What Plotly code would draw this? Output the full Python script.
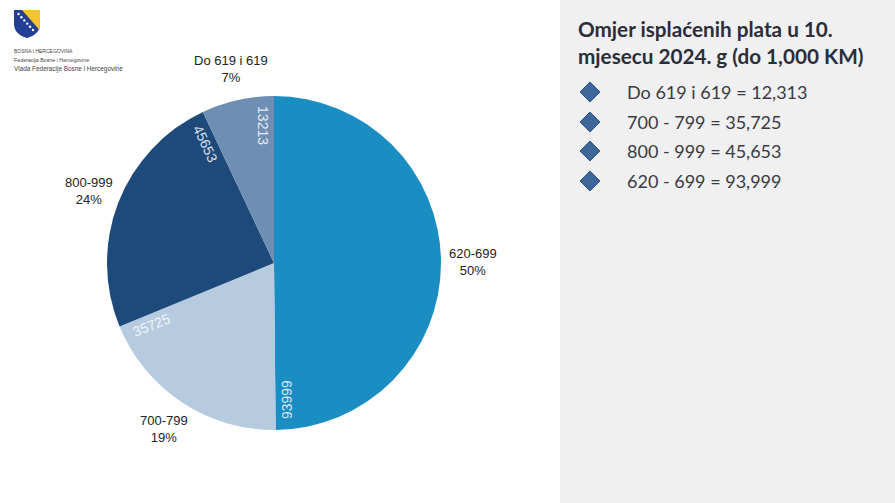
import math
import plotly.graph_objects as go

# ---------------- data ----------------
slice_labels = ["620-699", "700-799", "800-999", "Do 619 i 619"]
slice_values = [93999, 35725, 45653, 13213]
slice_colors = ["#1A8DC3", "#B7CBE0", "#1E4A7B", "#6E8EB3"]

list_labels = ["Do 619 i 619", "700 - 799", "800 - 999", "620 - 699"]
list_values = [12313, 35725, 45653, 93999]

title_lines = ["Omjer isplaćenih plata u 10.", "mjesecu 2024. g (do 1,000 KM)"]
org_lines = ["BOSNA I HERCEGOVINA", "Federacija Bosne i Hercegovine",
             "Vlada Federacije Bosne i Hercegovine"]

W, H = 895, 503


def px(x):
    return x / W


def py(y):
    return 1 - y / H


# pie geometry (pixels)
cx, cy, r = 274, 263, 167

fig = go.Figure()
fig.add_trace(go.Pie(
    labels=slice_labels, values=slice_values, sort=False, direction="clockwise",
    rotation=0, marker=dict(colors=slice_colors, line=dict(width=0)),
    textinfo="none", hoverinfo="label+value+percent", showlegend=False,
    domain=dict(x=[px(cx - r), px(cx + r)], y=[py(cy + r), py(cy - r)]),
))

annotations = []
shapes = []

total = sum(slice_values)
cum = 0.0
for lab, val in zip(slice_labels, slice_values):
    start = cum / total * 360
    cum += val
    end = cum / total * 360
    mid = (start + end) / 2
    # outside category + percent label
    tm = math.radians(mid)
    R_out = 1.19 * r
    ox = cx + R_out * math.sin(tm)
    oy = cy - R_out * math.cos(tm)
    pct = round(val / total * 100)
    annotations.append(dict(
        x=px(ox), y=py(oy), xref="paper", yref="paper", showarrow=False,
        text=f"{lab}<br>{pct}%", align="center", xanchor="center", yanchor="middle",
        font=dict(family="Liberation Sans, Arial", size=13, color="#222222"),
    ))
    # inside value label near the end edge of the slice, rotated
    te = math.radians(end)
    R_in = 0.82 * r
    d = 11
    ix = cx + R_in * math.sin(te) - d * math.cos(te)
    iy = cy - R_in * math.cos(te) - d * math.sin(te)
    ang = (end + 90) % 360
    if ang > 180:
        ang -= 360
    annotations.append(dict(
        x=px(ix), y=py(iy), xref="paper", yref="paper", showarrow=False,
        text=str(val), textangle=ang, xanchor="center", yanchor="middle",
        font=dict(family="Liberation Sans, Arial", size=14, color="rgba(255,255,255,0.85)"),
    ))

# right grey panel
shapes.append(dict(type="rect", xref="paper", yref="paper", x0=px(560), x1=1,
                   y0=0, y1=1, fillcolor="#F0F0F0", line=dict(width=0), layer="below"))

# title
annotations.append(dict(
    x=px(576), y=py(15), xref="paper", yref="paper", showarrow=False,
    text="<b>" + "<br>".join(title_lines) + "</b>", align="left",
    xanchor="left", yanchor="top",
    font=dict(family="Lato", size=20.7, color="#2a2d3a"),
))

# bullet list
bullet_y = [92, 122, 151, 181]
for yy, lab, val in zip(bullet_y, list_labels, list_values):
    hw, hh = 10, 10
    path = (f"M {px(590 - hw)},{py(yy)} L {px(590)},{py(yy - hh)} "
            f"L {px(590 + hw)},{py(yy)} L {px(590)},{py(yy + hh)} Z")
    shapes.append(dict(type="path", xref="paper", yref="paper", path=path,
                       fillcolor="#3D6699", line=dict(color="#2F5488", width=1)))
    annotations.append(dict(
        x=px(625), y=py(yy), xref="paper", yref="paper", showarrow=False,
        text=f"{lab} = {val:,}", xanchor="left", yanchor="middle",
        font=dict(family="Lato", size=18, color="#3a3a44"),
    ))

# logo shield
def P(x, y):
    return f"{px(x)},{py(y)}"

shield = (f"M {P(14,10)} L {P(40,10)} L {P(40,24)} Q {P(40,34)} {P(27,38)} "
          f"Q {P(14,34)} {P(14,24)} Z")
shapes.append(dict(type="path", xref="paper", yref="paper", path=shield,
                   fillcolor="#233E92", line=dict(width=0)))
tri = f"M {P(22,10)} L {P(40,10)} L {P(40,24)} L {P(39.5,30)} Z"
shapes.append(dict(type="path", xref="paper", yref="paper", path=tri,
                   fillcolor="#F4C430", line=dict(width=0)))
for k in range(6):
    sx = 18.5 + k * 2.9
    sy = 14 + k * 3.2
    shapes.append(dict(type="circle", xref="paper", yref="paper",
                       x0=px(sx - 1.2), x1=px(sx + 1.2), y0=py(sy + 1.2), y1=py(sy - 1.2),
                       fillcolor="white", line=dict(width=0)))

for yy, txt, sz in zip([51, 60, 69], org_lines, [5, 5.3, 6.4]):
    annotations.append(dict(
        x=px(12), y=py(yy), xref="paper", yref="paper", showarrow=False,
        text=txt, xanchor="left", yanchor="middle",
        font=dict(family="Liberation Sans, Arial", size=sz, color="#444444"),
    ))

fig.update_layout(
    width=W, height=H, margin=dict(l=0, r=0, t=0, b=0),
    paper_bgcolor="white", plot_bgcolor="white",
    annotations=annotations, shapes=shapes, showlegend=False,
)

fig.write_html("out.html")
